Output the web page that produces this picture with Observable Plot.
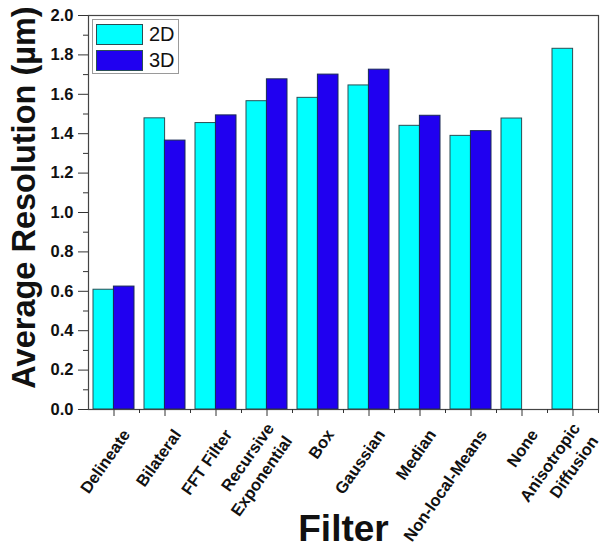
<!DOCTYPE html>
<html><head><meta charset="utf-8">
<script src="https://cdn.jsdelivr.net/npm/d3@7"></script>
<script src="https://cdn.jsdelivr.net/npm/@observablehq/plot@0.6"></script>
<style>
body{margin:0;background:#fff;font-family:"Liberation Sans",Arial,sans-serif;}
#wrap{position:relative;width:611px;height:547px;}
g[aria-label="x-axis label"] text{font-size:37px;font-weight:bold;}
#legend{position:absolute;left:92px;top:19px;width:87px;height:55px;border:1px solid #9a9a9a;background:#fff;box-sizing:border-box;}
#legend .row{position:absolute;left:3px;height:21px;width:84px;}
#legend .sw{position:absolute;left:0;top:0;width:47px;height:21px;box-sizing:border-box;border:1px solid #2a4f55;}
#legend .lab{position:absolute;left:53px;top:-1px;font-size:20px;line-height:22px;color:#111;}
</style></head><body><div id="wrap"><div id="legend"></div></div>
<script>
const filters = ["Delineate","Bilateral","FFT Filter","Recursive\nExponential","Box","Gaussian","Median","Non-local-Means","None","Anisotropic\nDiffusion"];
const values2D = [0.608,1.478,1.454,1.565,1.582,1.645,1.440,1.389,1.477,1.831];
const values3D = [0.624,1.365,1.493,1.676,1.700,1.725,1.491,1.413,null,null];
const series = ["2D","3D"];
const colors = ["#00FFFF","#2000F0"];
const yTicks = [0,0.2,0.4,0.6,0.8,1.0,1.2,1.4,1.6,1.8,2.0];
const yMinorTicks = [0.1,0.3,0.5,0.7,0.9,1.1,1.3,1.5,1.7,1.9];
const yTitle = "Average Resolution (µm)";
const xTitle = "Filter";

const W = 611, H = 547, mL = 88, mR = 13, mT = 15, mB = 138;
const padIn = 0.2, padOut = 0.1;
const step = (W - mL - mR) / (filters.length - padIn + 2 * padOut);
const half = step * (1 - padIn) / 2;

const rows2D = filters.map((f, i) => ({filter: f, value: values2D[i]})).filter(d => d.value != null);
const rows3D = filters.map((f, i) => ({filter: f, value: values3D[i]})).filter(d => d.value != null);

const chart = Plot.plot({
  width: W, height: H,
  marginLeft: mL, marginRight: mR, marginTop: mT, marginBottom: mB,
  style: {fontFamily: "'Liberation Sans', Arial, sans-serif", color: "#111", background: "#fff", overflow: "visible"},
  x: {type: "band", domain: filters, paddingInner: padIn, paddingOuter: padOut},
  y: {domain: [0, 2]},
  marks: [
    Plot.barY(rows2D, {x: "filter", y: "value", fill: colors[0], stroke: "#2a4f55", strokeWidth: 1, insetRight: half}),
    Plot.barY(rows3D, {x: "filter", y: "value", fill: colors[1], stroke: "#1a2a55", strokeWidth: 1, insetLeft: half}),
    Plot.frame({stroke: "#444", strokeWidth: 1.2}),
    Plot.axisY({ticks: yTicks, tickFormat: d3.format(".1f"), tickSize: 10, tickPadding: 5, fontSize: 16.5, fontWeight: "bold", stroke: "#333", label: null}),
    Plot.axisY({ticks: yMinorTicks, tickSize: 5, text: null, label: null, stroke: "#333"}),
    Plot.text([yTitle], {frameAnchor: "left", textAnchor: "middle", lineAnchor: "middle", rotate: -90, dx: -64, dy: -15, fontSize: 32.5, fontWeight: "bold", fill: "#111"}),
    Plot.axisX({tickSize: 7, text: null, label: null, stroke: "#333"}),
    Plot.axisX({tickRotate: -55, tickSize: 0, tickPadding: 21, dx: 11, fontSize: 16.5, fontWeight: "bold", lineHeight: 1.35, label: null}),
    Plot.axisX({ticks: [], label: xTitle, labelAnchor: "center", labelArrow: "none", labelOffset: 131}),
    Plot.axisX({tickSize: 4, text: null, label: null, dx: step / 2, stroke: "#333"})
  ]
});
document.getElementById("wrap").prepend(chart);

const legend = document.getElementById("legend");
series.forEach((s, i) => {
  const row = document.createElement("div");
  row.className = "row";
  row.style.top = (4 + i * 26) + "px";
  const sw = document.createElement("div");
  sw.className = "sw";
  sw.style.background = colors[i];
  const lab = document.createElement("div");
  lab.className = "lab";
  lab.textContent = s;
  row.appendChild(sw); row.appendChild(lab);
  legend.appendChild(row);
});
</script></body></html>
